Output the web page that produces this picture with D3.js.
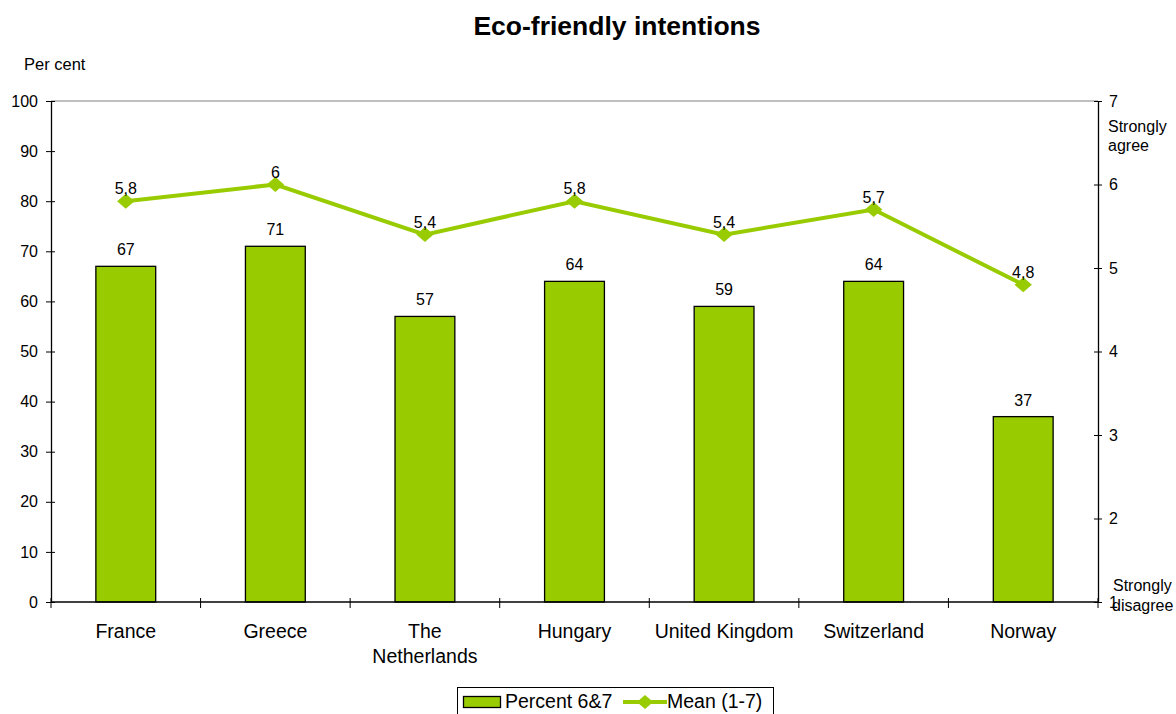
<!DOCTYPE html>
<html>
<head>
<meta charset="utf-8">
<script src="https://cdn.jsdelivr.net/npm/d3@7"></script>
<style>
  html, body { margin: 0; padding: 0; background: #fff; }
  svg { display: block; font-family: Arial, "Liberation Sans", sans-serif; }
</style>
</head>
<body>
<svg id="chart" width="1176" height="714"></svg>
<script>
// Countries along the x axis
const countries = [["France"], ["Greece"], ["The", "Netherlands"], ["Hungary"], ["United Kingdom"], ["Switzerland"], ["Norway"]];
// Share answering 6 or 7 (per cent)
const percent67 = [67, 71, 57, 64, 59, 64, 37];
// Mean agreement on a 1-7 scale
const mean17 = [5.8, 6, 5.4, 5.8, 5.4, 5.7, 4.8];
const leftTicks = [0, 10, 20, 30, 40, 50, 60, 70, 80, 90, 100];
const rightTicks = [1, 2, 3, 4, 5, 6, 7];

const green = "#99CC00";
const font = "Arial, 'Liberation Sans', sans-serif";
const svg = d3.select("#chart");
const m = { left: 51, right: 1098, top: 101, bottom: 602 };

const x = d3.scaleBand().domain(d3.range(countries.length)).range([m.left, m.right]).paddingInner(0).paddingOuter(0);
const yL = d3.scaleLinear().domain([0, 100]).range([m.bottom, m.top]);
const yR = d3.scaleLinear().domain([1, 7]).range([m.bottom, m.top]);
const cx = i => x(i) + x.bandwidth() / 2;

// Title
svg.append("text").attr("x", 617).attr("y", 35).attr("text-anchor", "middle")
  .attr("font-size", 26.5).attr("font-weight", "bold").text("Eco-friendly intentions");
svg.append("text").attr("x", 24).attr("y", 70).attr("font-size", 16.5).text("Per cent");

// Top border of the plot area
svg.append("line").attr("x1", m.left).attr("x2", m.right).attr("y1", m.top).attr("y2", m.top)
  .attr("stroke", "#808080").attr("stroke-width", 1);

// Bars
const bw = x.bandwidth() * 0.4;
svg.selectAll("rect.bar").data(percent67).join("rect").attr("class", "bar")
  .attr("x", (d, i) => cx(i) - bw / 2)
  .attr("y", d => yL(d))
  .attr("width", bw)
  .attr("height", d => yL(0) - yL(d))
  .attr("fill", green).attr("stroke", "#000").attr("stroke-width", 1.3);

svg.selectAll("text.barlab").data(percent67).join("text").attr("class", "barlab")
  .attr("x", (d, i) => cx(i))
  .attr("y", d => yL(d) - 11)
  .attr("text-anchor", "middle").attr("font-size", 16).text(d => d);

// Left axis
const axL = d3.axisLeft(yL).tickValues(leftTicks).tickSize(0).tickPadding(13);
const gL = svg.append("g").attr("transform", `translate(${m.left},0)`).call(axL);
gL.select(".domain").attr("stroke", "#000").attr("stroke-width", 1.3);
gL.selectAll("text").attr("font-size", 16).attr("font-family", font).attr("fill", "#000");
gL.selectAll(".tick").append("line").attr("x1", -5).attr("x2", 4).attr("stroke", "#000");

// Right axis
const axR = d3.axisRight(yR).tickValues(rightTicks).tickFormat(d3.format("d")).tickSize(0).tickPadding(11);
const gR = svg.append("g").attr("transform", `translate(${m.right},0)`).call(axR);
gR.select(".domain").attr("stroke", "#000").attr("stroke-width", 1.3);
gR.selectAll("text").attr("font-size", 16).attr("font-family", font).attr("fill", "#000");
gR.selectAll(".tick").append("line").attr("x1", -4).attr("x2", 4).attr("stroke", "#000");

svg.append("text").attr("x", 1108).attr("y", 132).attr("font-size", 16).text("Strongly");
svg.append("text").attr("x", 1108).attr("y", 151).attr("font-size", 16).text("agree");
svg.append("text").attr("x", 1113).attr("y", 591).attr("font-size", 16).text("Strongly");
svg.append("text").attr("x", 1112).attr("y", 611).attr("font-size", 16).text("disagree");

// Bottom axis with ticks at category boundaries
svg.append("line").attr("x1", m.left).attr("x2", m.right).attr("y1", m.bottom).attr("y2", m.bottom)
  .attr("stroke", "#000").attr("stroke-width", 1.3);
svg.selectAll("line.xtick").data(d3.range(countries.length + 1)).join("line").attr("class", "xtick")
  .attr("x1", i => m.left + i * x.step()).attr("x2", i => m.left + i * x.step())
  .attr("y1", m.bottom - 4).attr("y2", m.bottom + 6).attr("stroke", "#000");

const cl = svg.selectAll("text.cat").data(countries).join("text").attr("class", "cat")
  .attr("x", (d, i) => cx(i))
  .attr("y", 638).attr("text-anchor", "middle").attr("font-size", 19.5);
cl.selectAll("tspan").data(d => d).join("tspan")
  .attr("x", function () { return this.parentNode.getAttribute("x"); })
  .attr("dy", (d, j) => j === 0 ? 0 : 25).text(d => d);

// Mean line
const line = d3.line().x((d, i) => cx(i)).y(d => yR(d));
svg.append("path").datum(mean17).attr("d", line).attr("fill", "none")
  .attr("stroke", green).attr("stroke-width", 4);
svg.selectAll("path.pt").data(mean17).join("path").attr("class", "pt")
  .attr("d", d3.symbol().type(d3.symbolSquare).size(125))
  .attr("transform", (d, i) => `translate(${cx(i)},${yR(d)}) scale(1.1,0.95) rotate(45)`)
  .attr("fill", green);
svg.selectAll("text.ptlab").data(mean17).join("text").attr("class", "ptlab")
  .attr("x", (d, i) => cx(i))
  .attr("y", d => yR(d) - 7)
  .attr("text-anchor", "middle").attr("font-size", 16)
  .text(d => String(d).replace(".", ","));

// Legend
const lg = svg.append("g");
lg.append("rect").attr("x", 457.5).attr("y", 687.5).attr("width", 316).attr("height", 34)
  .attr("fill", "#fff").attr("stroke", "#000").attr("stroke-width", 1);
lg.append("rect").attr("x", 463.5).attr("y", 696.5).attr("width", 37).attr("height", 11)
  .attr("fill", green).attr("stroke", "#000").attr("stroke-width", 1.3);
lg.append("text").attr("x", 505).attr("y", 708).attr("font-size", 19.5).text("Percent 6&7");
lg.append("line").attr("x1", 623).attr("x2", 667).attr("y1", 702).attr("y2", 702)
  .attr("stroke", green).attr("stroke-width", 4);
lg.append("path").attr("d", d3.symbol().type(d3.symbolSquare).size(110))
  .attr("transform", "translate(645,702) scale(1.1,0.95) rotate(45)").attr("fill", green);
lg.append("text").attr("x", 667).attr("y", 708).attr("font-size", 19.5).text("Mean (1-7)");
</script>
</body>
</html>
